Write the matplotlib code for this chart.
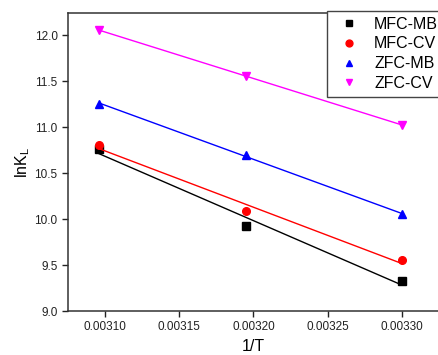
import numpy as np
import matplotlib.pyplot as plt

plt.rcParams['font.family'] = ['Liberation Sans', 'DejaVu Sans']

inv_T = [0.003096, 0.003195, 0.003300]
series = ['MFC-MB', 'MFC-CV', 'ZFC-MB', 'ZFC-CV']
mfc_mb = [10.76, 9.92, 9.33]
mfc_cv = [10.80, 10.09, 9.55]
zfc_mb = [11.25, 10.70, 10.05]
zfc_cv = [12.05, 11.56, 11.02]

values = [mfc_mb, mfc_cv, zfc_mb, zfc_cv]
colors = ['black', 'red', 'blue', 'magenta']
markers = ['s', 'o', '^', 'v']

fig = plt.figure(figsize=(4.38, 3.55), dpi=100)
ax = fig.add_axes([68 / 438, 44 / 355, 1.002 - 68 / 438, (311 - 13) / 355])

x = np.array(inv_T)
for name, y, c, m in zip(series, values, colors, markers):
    k, b = np.polyfit(x, y, 1)
    ax.plot(x, k * x + b, color=c, lw=1.0)
    ax.plot(x, y, m, color=c, ms=5.5, label=name, linestyle='none')

ax.set_xlim(0.003075, 0.003325)
ax.set_ylim(9.0, 12.24)
ax.set_xticks([0.00310, 0.00315, 0.00320, 0.00325, 0.00330])
ax.set_xticklabels(['0.00310', '0.00315', '0.00320', '0.00325', '0.00330'])
ax.set_yticks(np.arange(9.0, 12.01, 0.5))
ax.set_yticklabels(['%.1f' % v for v in np.arange(9.0, 12.01, 0.5)])
ax.tick_params(direction='out', length=4, width=1, labelsize=8.5, colors='#222222')
for s in ax.spines.values():
    s.set_linewidth(1.1)
    s.set_color('#333333')

ax.set_xlabel('1/T', fontsize=11.5, labelpad=4)
ax.set_ylabel('lnK$_\\mathregular{L}$', fontsize=11.5, labelpad=2)

ax.legend(loc='upper left', bbox_to_anchor=(327 / 438, 1 - 11 / 355),
          bbox_transform=fig.transFigure, borderaxespad=0, fontsize=11.5,
          frameon=True, fancybox=False, edgecolor='#444444', framealpha=1,
          handletextpad=0.6, borderpad=0.35, labelspacing=0.3,
          handlelength=2.0, markerscale=0.9)

fig.savefig('out.png', dpi=100)
